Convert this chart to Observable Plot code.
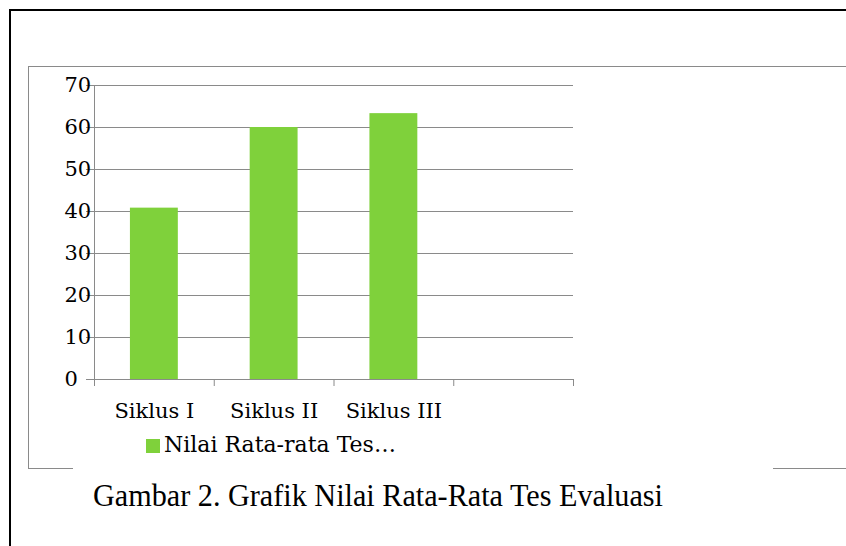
<!DOCTYPE html>
<html>
<head>
<meta charset="utf-8">
<script src="https://cdn.jsdelivr.net/npm/d3@7"></script>
<script src="https://cdn.jsdelivr.net/npm/@observablehq/plot@0.6"></script>
<style>
  html, body { margin: 0; padding: 0; background: #fff; }
  #wrap { position: relative; width: 846px; height: 546px; overflow: hidden; background: #fff; }
  .abs { position: absolute; }
  .slab { font-family: "DejaVu Serif", serif; font-size: 22px; line-height: 22px; color: #000; }
  .times { font-family: "Liberation Serif", serif; font-size: 32px; line-height: 32px; color: #000; }
</style>
</head>
<body>
<div id="wrap">
  <div class="abs" style="left:10px;top:9px;width:836px;height:2px;background:#000"></div>
  <div class="abs" style="left:9px;top:9px;width:2px;height:537px;background:#000"></div>
  <div class="abs" style="left:28px;top:66px;width:818px;height:1px;background:#8a8a8a"></div>
  <div class="abs" style="left:28px;top:66px;width:1px;height:403px;background:#8a8a8a"></div>
  <div class="abs" style="left:28px;top:468px;width:45px;height:1px;background:#8a8a8a"></div>
  <div class="abs" style="left:773px;top:468px;width:73px;height:1px;background:#8a8a8a"></div>
  <div id="chart" class="abs" style="left:0;top:0"></div>
  <div id="swatch" class="abs" style="left:146px;top:439px;width:14px;height:14px"></div>
  <div id="legendText" class="abs slab" style="left:164px;top:434px;white-space:nowrap"></div>
  <div id="caption" class="abs times" style="left:93px;top:479px;white-space:nowrap;transform-origin:0 0"></div>
</div>
<script>
const categories = ["Siklus I", "Siklus II", "Siklus III"];
const values = [40.8, 60, 63.3];
const yTicks = [0, 10, 20, 30, 40, 50, 60, 70];
const slotCount = 4;
const slotBoundaries = [0, 1, 2, 3, 4];
const seriesName = "Nilai Rata-rata Tes…";
const captionText = "Gambar 2. Grafik Nilai Rata-Rata Tes Evaluasi";
const barColor = "#7fd13b";
const gridColor = "#8a8a8a";

const data = categories.map((c, i) => ({c, v: values[i], i}));

const chart = Plot.plot({
  width: 846,
  height: 546,
  marginLeft: 94,
  marginRight: 273,
  marginTop: 85,
  marginBottom: 167,
  x: {type: "linear", domain: [0, slotCount], axis: null},
  y: {domain: [0, 70], axis: null},
  style: {fontFamily: "DejaVu Serif", fontSize: "21px", background: "transparent", color: "#000"},
  marks: [
    Plot.ruleY(yTicks, {x1: 0, x2: slotCount, stroke: gridColor, strokeWidth: 1, insetLeft: -8}),
    Plot.ruleX([0], {y1: 0, y2: 70, stroke: gridColor}),
    Plot.ruleX(slotBoundaries, {y1: 0, y2: 0, stroke: gridColor, insetBottom: -7}),
    Plot.rectY(data, {x1: d => d.i + 0.3, x2: d => d.i + 0.7, y: "v", fill: barColor}),
    Plot.text(data, {x: d => d.i + 0.5, y: 0, text: "c", dy: 32, fill: "#000", fontSize: 21}),
    Plot.text(yTicks, {y: d => d, frameAnchor: "left", dx: -30, text: d => String(d), fill: "#000", fontSize: 21})
  ]
});
document.getElementById("chart").appendChild(chart);

document.getElementById("swatch").style.background = barColor;
document.getElementById("legendText").textContent = seriesName;

const cap = document.getElementById("caption");
cap.textContent = captionText;
const w = cap.getBoundingClientRect().width;
cap.style.transform = `scaleX(${570 / w})`;
</script>
</body>
</html>
